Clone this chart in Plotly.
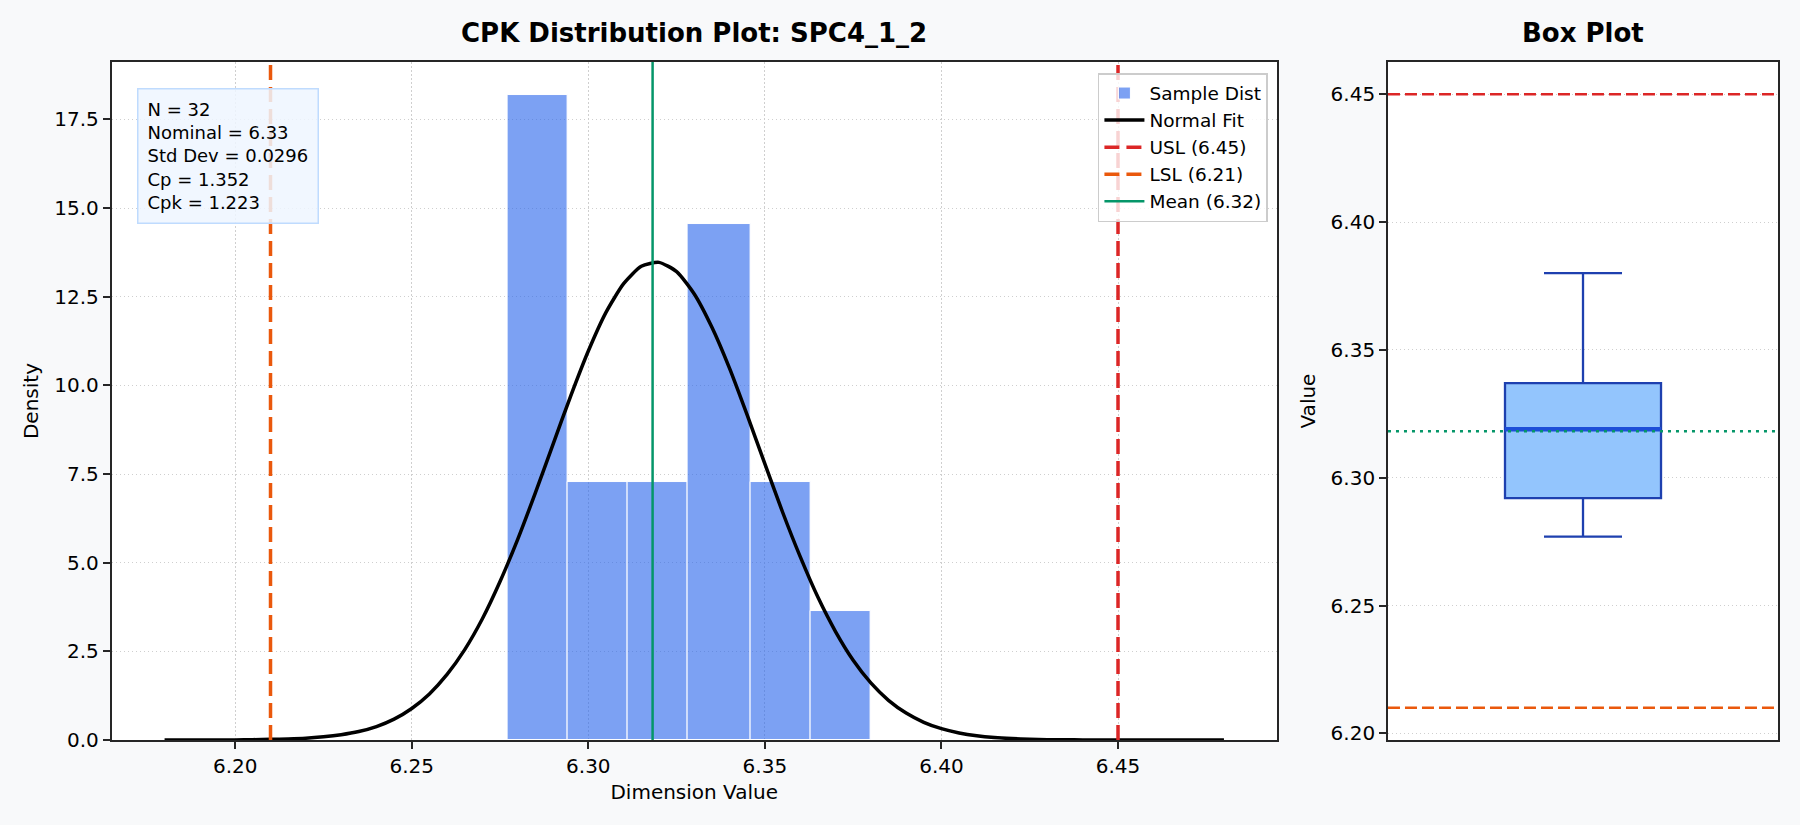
import numpy as np
import plotly.graph_objects as go
from plotly.subplots import make_subplots

# histogram (density)
bin_edges = [6.277, 6.294, 6.311, 6.328, 6.346, 6.363, 6.380]
bin_density = [18.20, 7.28, 7.28, 14.56, 7.28, 3.64]

# normal fit curve
normal_x = [6.180, 6.185, 6.190, 6.195, 6.200, 6.205, 6.210, 6.215, 6.220, 6.225,
            6.230, 6.235, 6.240, 6.245, 6.250, 6.255, 6.260, 6.265, 6.270, 6.275,
            6.280, 6.285, 6.290, 6.295, 6.300, 6.305, 6.310, 6.315, 6.320, 6.325,
            6.330, 6.335, 6.340, 6.345, 6.350, 6.355, 6.360, 6.365, 6.370, 6.375,
            6.380, 6.385, 6.390, 6.395, 6.400, 6.405, 6.410, 6.415, 6.420, 6.425,
            6.430, 6.435, 6.440, 6.450, 6.460, 6.470, 6.480]
normal_y = [0.00, 0.00, 0.00, 0.00, 0.00, 0.01, 0.02, 0.03, 0.05, 0.09,
            0.15, 0.24, 0.38, 0.59, 0.89, 1.30, 1.85, 2.55, 3.42, 4.47,
            5.66, 6.97, 8.34, 9.70, 10.97, 12.06, 12.87, 13.36, 13.47, 13.21,
            12.58, 11.64, 10.48, 9.16, 7.79, 6.43, 5.17, 4.03, 3.06, 2.25,
            1.61, 1.12, 0.76, 0.50, 0.32, 0.20, 0.12, 0.07, 0.04, 0.02,
            0.01, 0.01, 0.00, 0.00, 0.00, 0.00, 0.00]

usl = 6.45
lsl = 6.21
mean_val = 6.3182

# box plot stats
box_lower = 6.277
box_q1 = 6.292
box_median = 6.319
box_q3 = 6.337
box_upper = 6.380
box_width = 0.4

stats_lines = ["N = 32", "Nominal = 6.33", "Std Dev = 0.0296", "Cp = 1.352", "Cpk = 1.223"]

FONT = "DejaVu Sans"
RED = "#dc2626"
ORANGE = "#ea580c"
GREEN = "#059669"

fig = make_subplots(rows=1, cols=2)

edges = np.array(bin_edges)
fig.add_trace(
    go.Bar(
        x=edges[:-1], y=bin_density, width=np.diff(edges), offset=0,
        name="Sample Dist", legendrank=1,
        marker=dict(color="rgba(37,99,235,0.6)", line=dict(color="white", width=1)),
    ),
    row=1, col=1,
)
fig.add_trace(
    go.Scatter(
        x=normal_x, y=normal_y, mode="lines", name="Normal Fit", legendrank=2,
        line=dict(color="black", width=3.5, shape="spline", smoothing=0.6),
    ),
    row=1, col=1,
)

# spec / mean lines on the histogram
fig.add_shape(type="line", x0=usl, x1=usl, y0=0, y1=1, xref="x", yref="y domain",
              line=dict(color=RED, width=3.5, dash="15px,7px"),
              showlegend=True, name=f"USL ({usl:.2f})", legendrank=3)
fig.add_shape(type="line", x0=lsl, x1=lsl, y0=0, y1=1, xref="x", yref="y domain",
              line=dict(color=ORANGE, width=3.5, dash="15px,7px"),
              showlegend=True, name=f"LSL ({lsl:.2f})", legendrank=4)
fig.add_shape(type="line", x0=mean_val, x1=mean_val, y0=0, y1=1, xref="x", yref="y domain",
              line=dict(color=GREEN, width=2.5),
              showlegend=True, name=f"Mean ({mean_val:.2f})", legendrank=5)

# box plot
fig.add_trace(
    go.Box(
        x=[1], q1=[box_q1], median=[box_median], q3=[box_q3],
        lowerfence=[box_lower], upperfence=[box_upper],
        width=box_width, whiskerwidth=0.5, showlegend=False,
        fillcolor="#93c5fd", line=dict(color="#1e40af", width=2.3),
        hoverinfo="y",
    ),
    row=1, col=2,
)
# heavier median line, as in the original
fig.add_shape(type="line", x0=1 - box_width / 2, x1=1 + box_width / 2,
              y0=box_median, y1=box_median, xref="x2", yref="y2",
              line=dict(color="#1d4ed8", width=4.5))
fig.add_shape(type="line", x0=0, x1=1, y0=usl, y1=usl, xref="x2 domain", yref="y2",
              line=dict(color=RED, width=2.6, dash="12px,5px"))
fig.add_shape(type="line", x0=0, x1=1, y0=lsl, y1=lsl, xref="x2 domain", yref="y2",
              line=dict(color=ORANGE, width=2.6, dash="12px,5px"))
fig.add_shape(type="line", x0=0, x1=1, y0=mean_val, y1=mean_val,
              xref="x2 domain", yref="y2",
              line=dict(color=GREEN, width=2.6, dash="3px,5px"))

axis_style = dict(
    showline=True, linecolor="#262626", linewidth=1.7, mirror=True,
    ticks="outside", ticklen=7, tickwidth=1.5, tickcolor="#262626",
    tickfont=dict(family=FONT, size=20, color="black"),
    showgrid=True, gridcolor="#cfcfcf", griddash="1.5px,2.5px", gridwidth=1,
    zeroline=False, automargin=False,
)

fig.update_xaxes(axis_style)
fig.update_yaxes(axis_style)

fig.update_layout(
    xaxis=dict(domain=[0.062, 0.7094], range=[6.165, 6.495], dtick=0.05, tick0=6.2,
               tickformat=".2f",
               title=dict(text="Dimension Value", font=dict(family=FONT, size=20, color="black"),
                          standoff=8)),
    yaxis=dict(domain=[0.103, 0.9248], range=[0, 19.12], dtick=2.5, tickformat=".1f",
               title=dict(text="Density", font=dict(family=FONT, size=20, color="black"),
                          standoff=10)),
    xaxis2=dict(domain=[0.7711, 0.9878], range=[0.5, 1.5], showticklabels=False,
                ticks="", showgrid=False),
    yaxis2=dict(domain=[0.103, 0.9248], range=[6.1974, 6.4626], dtick=0.05, tick0=6.2,
                tickformat=".2f",
                title=dict(text="Value", font=dict(family=FONT, size=20, color="black"),
                           standoff=10)),
    width=1800, height=825,
    margin=dict(l=0, r=0, t=0, b=0),
    paper_bgcolor="#f8f9fa", plot_bgcolor="white",
    font=dict(family=FONT, color="black"),
    bargap=0,
    legend=dict(
        x=0.7044, y=0.9115, xanchor="right", yanchor="top",
        bgcolor="rgba(255,255,255,0.8)", bordercolor="#cccccc", borderwidth=1.5,
        font=dict(family=FONT, size=18.5, color="black"),
        tracegroupgap=2, itemwidth=40,
    ),
)

# titles
fig.add_annotation(text="<b>CPK Distribution Plot: SPC4_1_2</b>", x=0.3857, y=1 - 33 / 825,
                   xref="paper", yref="paper", showarrow=False, xanchor="center", yanchor="middle",
                   font=dict(family=FONT, size=26, color="black"))
fig.add_annotation(text="<b>Box Plot</b>", x=0.8794, y=1 - 33 / 825,
                   xref="paper", yref="paper", showarrow=False, xanchor="center", yanchor="middle",
                   font=dict(family=FONT, size=26, color="black"))

# stats box
fig.add_annotation(text="<br>".join(stats_lines), x=137 / 1800, y=1 - 88 / 825,
                   xref="paper", yref="paper", showarrow=False, xanchor="left", yanchor="top",
                   align="left", font=dict(family=FONT, size=18, color="black"),
                   bgcolor="rgba(239,246,255,0.85)", bordercolor="#bfdbfe", borderwidth=1.5,
                   borderpad=9)

fig.write_html("out.html", config={"displayModeBar": False},
               post_script="document.body.style.margin='0px';")
